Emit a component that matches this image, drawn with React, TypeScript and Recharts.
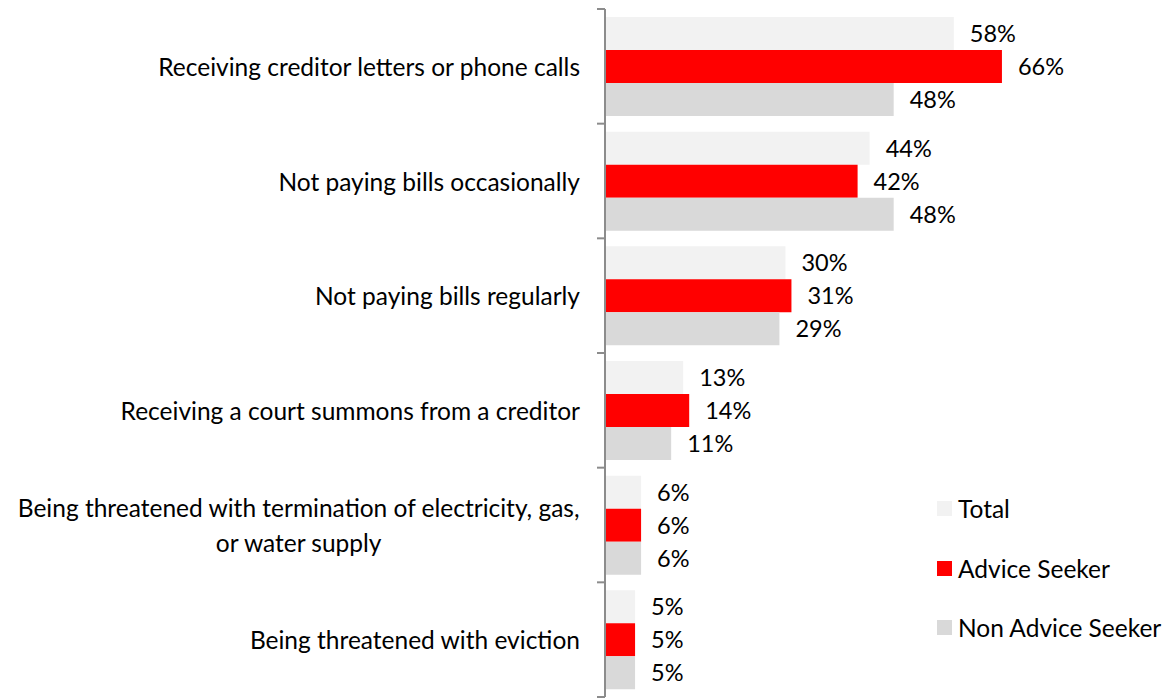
import { BarChart, Bar, XAxis, YAxis, LabelList } from "recharts";

const categories = [
  "Receiving creditor letters or phone calls",
  "Not paying bills occasionally",
  "Not paying bills regularly",
  "Receiving a court summons from a creditor",
  "Being threatened with termination of electricity, gas,|or water supply",
  "Being threatened with eviction",
];
const total = [58, 44, 30, 13, 6, 5];
const adviceSeeker = [66, 42, 31, 14, 6, 5];
const nonAdviceSeeker = [48, 48, 29, 11, 6, 5];

const series = [
  { key: "total", name: "Total", color: "#F2F2F2" },
  { key: "advice", name: "Advice Seeker", color: "#FF0000" },
  { key: "non", name: "Non Advice Seeker", color: "#D9D9D9" },
];

const data = categories.map((c, i) => ({
  cat: c,
  total: total[i],
  advice: adviceSeeker[i],
  non: nonAdviceSeeker[i],
}));

const FONT = "Lato, 'Open Sans', sans-serif";
const FS = 24.5;
const VFS = 23.5;
const W = 1165;
const H = 700;
const M = { top: 9, right: 139, bottom: 3, left: 0 };
const AXIS_W = 605;
const BAND = (H - M.top - M.bottom) / categories.length;
const AXIS_COLOR = "#8C8C8C";

function measure(text: string) {
  const c = document.createElement("canvas").getContext("2d");
  if (!c) return text.length * FS * 0.48;
  c.font = `${FS}px Lato`;
  return c.measureText(text).width;
}

function CatTick(props: any) {
  const { x, y, payload, index } = props;
  const lines = String(payload.value).split("|");
  const tx = x - 25;
  return (
    <g>
      <line x1={x - 8} x2={x} y1={y - BAND / 2} y2={y - BAND / 2} stroke={AXIS_COLOR} strokeWidth={2} />
      {index === categories.length - 1 && (
        <line x1={x - 8} x2={x} y1={y + BAND / 2} y2={y + BAND / 2} stroke={AXIS_COLOR} strokeWidth={2} />
      )}
      {lines.length === 1 ? (
        <text x={tx} y={y} textAnchor="end" dominantBaseline="central" fontSize={FS} fontFamily={FONT} fill="#000">
          {lines[0]}
        </text>
      ) : (
        lines.map((ln, i) => {
          const w0 = measure(lines[0]);
          const cx = tx - w0 / 2;
          return (
            <text
              key={i}
              x={cx}
              y={y + (i - (lines.length - 1) / 2) * 35}
              textAnchor="middle"
              dominantBaseline="central"
              fontSize={FS}
              fontFamily={FONT}
              fill="#000"
            >
              {ln}
            </text>
          );
        })
      )}
    </g>
  );
}

function LegendBox() {
  return (
    <div
      style={{
        position: "absolute",
        left: 937,
        top: 479,
        fontFamily: FONT,
        fontSize: FS,
        color: "#000",
      }}
    >
      {series.map((s) => (
        <div key={s.key} style={{ display: "flex", alignItems: "center", height: 59.5 }}>
          <span style={{ display: "inline-block", width: 15, height: 15, background: s.color, marginRight: 6 }} />
          <span>{s.name}</span>
        </div>
      ))}
    </div>
  );
}

export default function App() {
  return (
    <div style={{ position: "absolute", left: 0, top: 0, width: W, height: H, background: "#fff" }}>
      <BarChart
        width={W}
        height={H}
        data={data}
        layout="vertical"
        margin={M}
        barCategoryGap={8}
        barGap={0}
      >
        <XAxis type="number" domain={[0, 70]} hide />
        <YAxis
          type="category"
          dataKey="cat"
          width={AXIS_W}
          axisLine={{ stroke: AXIS_COLOR, strokeWidth: 2 }}
          tickLine={false}
          tickSize={0}
          tickMargin={0}
          tick={<CatTick />}
          interval={0}
        />
        {series.map((s) => (
          <Bar key={s.key} dataKey={s.key} name={s.name} fill={s.color} isAnimationActive={false}>
            <LabelList
              dataKey={s.key}
              position="right"
              offset={16}
              formatter={(v: any) => `${v}%`}
              style={{ fontSize: VFS, fontFamily: FONT, fill: "#000" }}
            />
          </Bar>
        ))}
      </BarChart>
      <LegendBox />
    </div>
  );
}
